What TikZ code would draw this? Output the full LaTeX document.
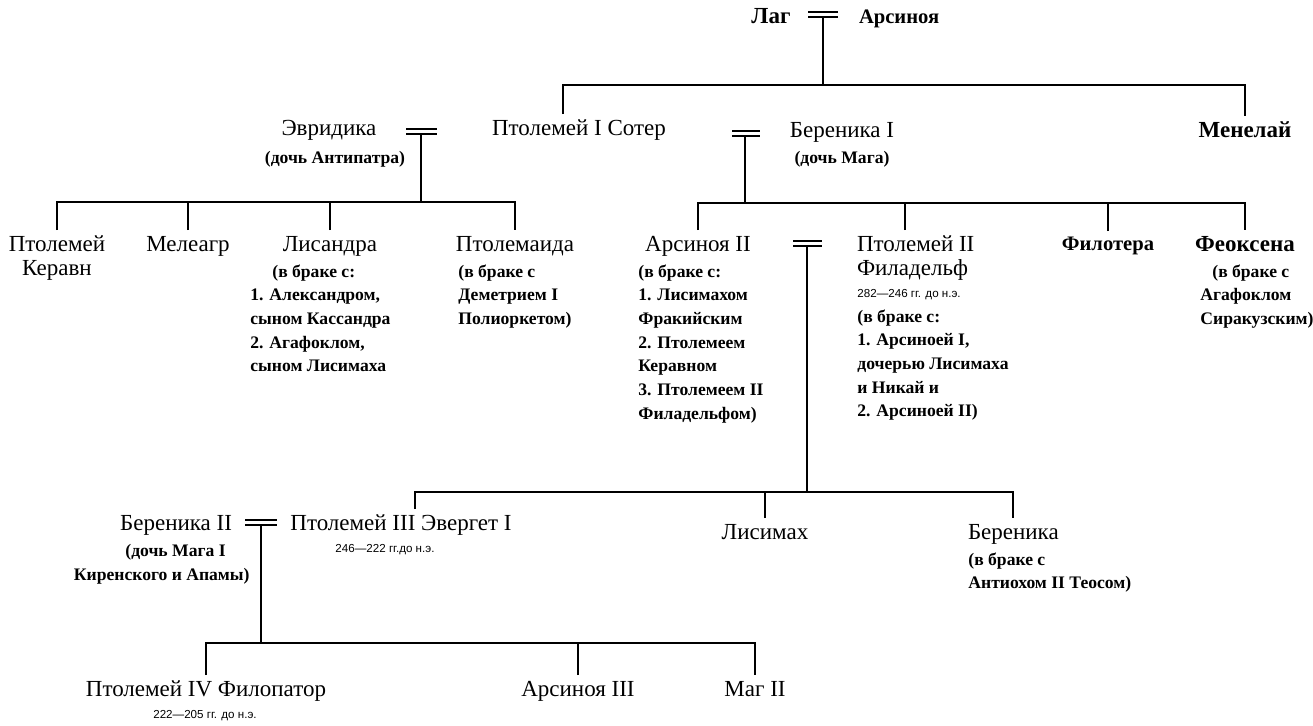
\documentclass[tikz,border=0pt]{standalone}
\usepackage{fontspec}
\setmainfont{Liberation Serif}
\newfontfamily\datefont{Liberation Sans}
\usepackage{tikz}

\begin{document}
\begin{tikzpicture}[x=0.5pt,y=-0.5pt]
\tikzstyle{every node}+=[inner sep=0pt]
\tikzstyle{person}=[font=\fontsize{11.5}{12}\selectfont, outer sep=3pt, anchor=north]
\tikzstyle{bperson}=[person, font=\fontsize{11.5}{12}\selectfont\bfseries]
\tikzstyle{sbperson}=[person, font=\fontsize{10.3}{12}\selectfont\bfseries]
\tikzstyle{note}=[font=\fontsize{8.8}{11.85}\selectfont\bfseries, align=left, anchor=north west]
\tikzstyle{dates}=[font=\datefont\fontsize{5.8}{7}\selectfont, anchor=base]
\tikzstyle{kin}=[black, line width=1.1pt]
\tikzstyle{wed}=[black, line width=0.8pt]
\useasboundingbox (0,0) rectangle (1313,725);

\node [bperson, anchor=base] (lag) at (771,23) {Лаг};
\node [sbperson, anchor=base west] (ars) at (853,23) {Арсиноя};
\draw [wed] (808,12) -- (838,12) (808,17) -- (838,17);
\coordinate (w0) at (823,17);
\coordinate (b0) at (823,85);

\node [person] (soter) at (579,114) {Птолемей I Сотер};
\node [bperson] (menel) at (1245,116) {Менелай};
\node [person] (eur) at (329,114) {Эвридика};
\node [note, anchor=base] (eurn) at (335,163) {(дочь Антипатра)};
\draw [wed] (406,129) -- (437,129) (406,134) -- (437,134);
\coordinate (w1) at (421,134);
\coordinate (b1) at (421,202);
\node [person] (ber1) at (842,116) {Береника I};
\node [note, anchor=base] (ber1n) at (842,163) {(дочь Мага)};
\draw [wed] (732,131) -- (760,131) (732,136) -- (760,136);
\coordinate (w2) at (745,136);
\coordinate (b2) at (745,203);

\node [person, align=center] (ker) at (57,230) {Птолемей\\Керавн};
\node [person] (mel) at (188,230) {Мелеагр};
\node [person] (lis) at (330,230) {Лисандра};
\node [note] (lisn) at (250,264) {\hspace*{11pt}(в браке с:\\1. Александром,\\сыном Кассандра\\2. Агафоклом,\\сыном Лисимаха};
\node [person] (ptmd) at (515,230) {Птолемаида};
\node [note] (ptmdn) at (458,264) {(в браке с\\Деметрием I\\Полиоркетом)};

\node [person] (ars2) at (698,230) {Арсиноя II};
\node [note] (ars2n) at (638,264) {(в браке с:\\1. Лисимахом\\Фракийским\\2. Птолемеем\\Керавном\\3. Птолемеем II\\Филадельфом)};
\draw [wed] (793,241) -- (822,241) (793,246) -- (822,246);
\coordinate (w3) at (807,246);
\coordinate (b3) at (807,492);
\node [person, align=left, anchor=north west] (pt2) at (851,230) {Птолемей II\\Филадельф};
\node [dates, anchor=base west] (pt2d) at (857,297) {282—246 гг. до н.э.};
\node [note] (pt2n) at (857,309) {(в браке с:\\1. Арсиноей I,\\дочерью Лисимаха\\и Никай и\\2. Арсиноей II)};
\node [sbperson] (filot) at (1108,231) {Филотера};
\node [bperson] (feox) at (1245,230) {Феоксена};
\node [note] (feoxn) at (1200,264) {\hspace*{6pt}(в браке с\\Агафоклом\\Сиракузским)};

\node [person, anchor=north east] (ber2) at (238,509) {Береника II};
\node [note, align=right, anchor=north east] (ber2n) at (250,544) {(дочь Мага I\hspace*{12pt}\\Киренского и Апамы)};
\draw [wed] (245,520) -- (277,520) (245,525) -- (277,525);
\coordinate (w4) at (261,525);
\coordinate (b4) at (261,643);
\node [person] (pt3) at (401,509) {Птолемей III Эвергет I};
\node [dates] (pt3d) at (385,552) {246—222 гг.до н.э.};
\node [person] (lsm) at (765,518) {Лисимах};
\node [person, anchor=north west] (ber) at (962,518) {Береника};
\node [note] (bern) at (968,552) {(в браке с\\Антиохом II Теосом)};

\node [person] (pt4) at (206,675) {Птолемей IV Филопатор};
\node [dates] (pt4d) at (205,718) {222—205 гг. до н.э.};
\node [person] (ars3) at (578,675) {Арсиноя III};
\node [person] (mag2) at (755,675) {Маг II};

\coordinate (soterTop) at ([xshift=-8pt]soter.north);
\coordinate (pt2Top) at ([xshift=-5.5pt]pt2.north);
\coordinate (pt3Top) at ([xshift=7pt]pt3.north);
\draw [kin] (w0) -- (b0);
\draw [kin] (soterTop) |- (b0) -| (menel.north);
\draw [kin] (w1) -- (b1);
\draw [kin] (ker.north) |- (b1) -| (ptmd.north);
\draw [kin] (mel.north) -- (mel.north |- b1);
\draw [kin] (lis.north) -- (lis.north |- b1);
\draw [kin] (w2) -- (b2);
\draw [kin] (ars2.north) |- (b2) -| (feox.north);
\draw [kin] (pt2Top) -- (pt2Top |- b2);
\draw [kin] (filot.north) -- (filot.north |- b2);
\draw [kin] (w3) -- (b3);
\draw [kin] (pt3Top) |- (b3) -| (ber.north);
\draw [kin] (lsm.north) -- (lsm.north |- b3);
\draw [kin] (w4) -- (b4);
\draw [kin] (pt4.north) |- (b4) -| (mag2.north);
\draw [kin] (ars3.north) -- (ars3.north |- b4);
\end{tikzpicture}
\end{document}
